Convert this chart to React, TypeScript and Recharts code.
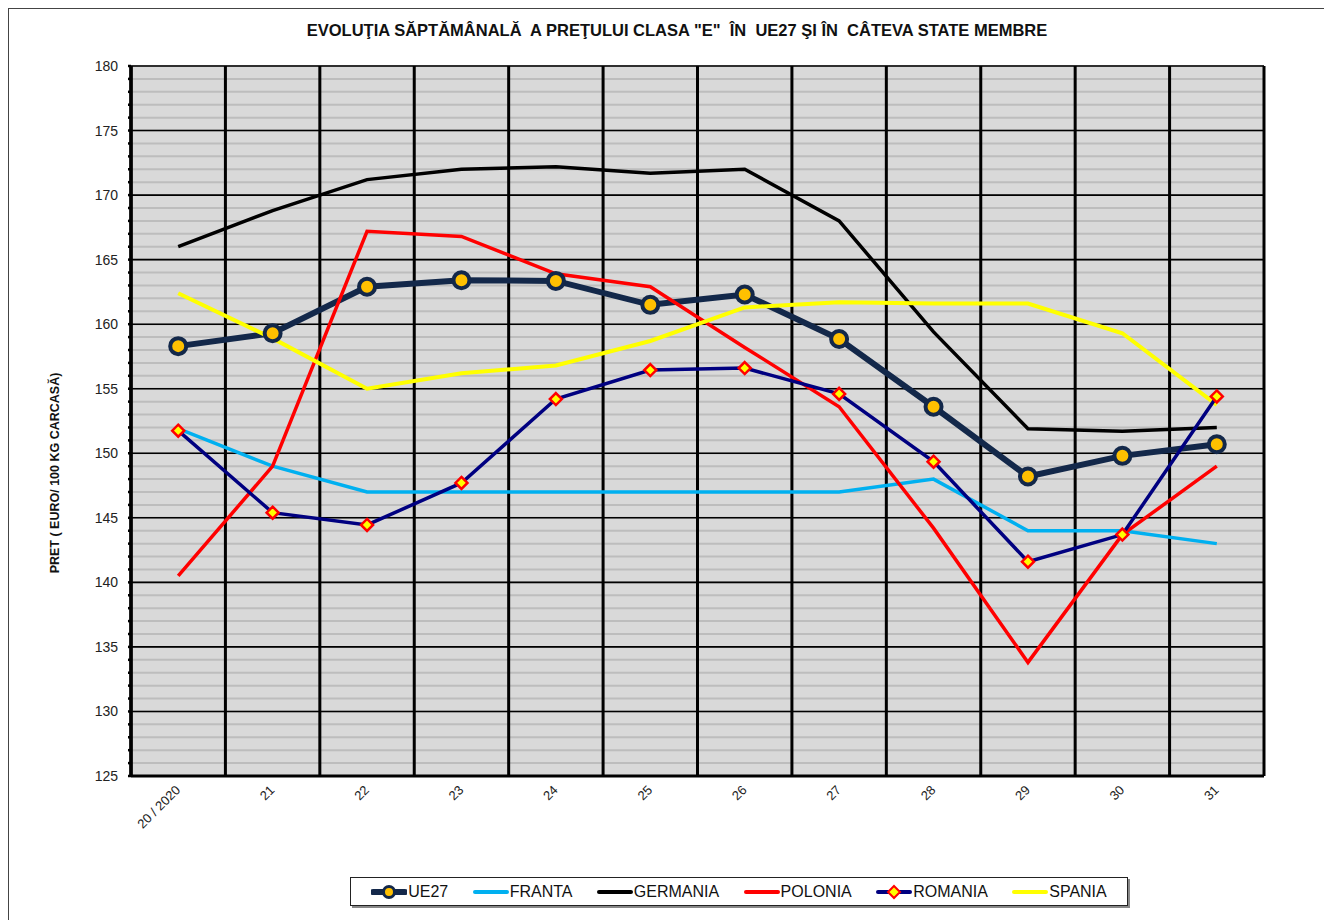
import React from "react"
import { LineChart, Line, XAxis, YAxis, CartesianGrid, ReferenceLine } from "recharts"

const weeks = ["20 / 2020", "21", "22", "23", "24", "25", "26", "27", "28", "29", "30", "31"]
const ue27 = [158.3, 159.3, 162.9, 163.4, 163.35, 161.5, 162.3, 158.85, 153.6, 148.2, 149.8, 150.7]
const franta = [151.9, 149.0, 147.0, 147.0, 147.0, 147.0, 147.0, 147.0, 148.0, 144.0, 144.0, 143.0]
const germania = [166.0, 168.8, 171.2, 172.0, 172.2, 171.7, 172.0, 168.0, 159.4, 151.9, 151.7, 152.0]
const polonia = [140.5, 149.0, 167.2, 166.8, 163.9, 162.9, 158.2, 153.6, 144.2, 133.8, 143.7, 149.0]
const romania = [151.75, 145.4, 144.45, 147.7, 154.2, 156.45, 156.6, 154.6, 149.35, 141.6, 143.7, 154.4]
const spania = [162.4, 158.9, 155.0, 156.2, 156.8, 158.7, 161.3, 161.7, 161.6, 161.6, 159.3, 153.75]

const minorTicks = Array.from({ length: 56 }, (_, i) => 125 + i)
const majorTicks = [125, 130, 135, 140, 145, 150, 155, 160, 165, 170, 175, 180]
const weekTicks = weeks.map((_, i) => i)
const boundTicks = Array.from({ length: 13 }, (_, i) => i - 0.5)

const data = weeks.map((w, i) => ({
  idx: i,
  week: w,
  UE27: ue27[i],
  FRANTA: franta[i],
  GERMANIA: germania[i],
  POLONIA: polonia[i],
  ROMANIA: romania[i],
  SPANIA: spania[i],
}))

const FONT = "Arial, 'Liberation Sans', sans-serif"
const NAVY = "#13284a"
const GOLD = "#ffc000"

const UeDot = (p: any) => (
  <circle key={`ue-${p.index}`} cx={p.cx} cy={p.cy} r={8} fill={GOLD} stroke={NAVY} strokeWidth={4} />
)

const RoDot = (p: any) => {
  const s = 6
  return (
    <path
      key={`ro-${p.index}`}
      d={`M${p.cx},${p.cy - s} L${p.cx + s},${p.cy} L${p.cx},${p.cy + s} L${p.cx - s},${p.cy} Z`}
      fill="#ffff00"
      stroke="#ff0000"
      strokeWidth={2.5}
    />
  )
}

const YTick = ({ x, y, payload }: any) => {
  if (payload.value % 5 !== 0) return null
  return (
    <text x={x} y={y} dy={5} textAnchor="end" fontSize={14} fontFamily={FONT} fill="#222">
      {payload.value}
    </text>
  )
}

const XTick = ({ x, y, payload }: any) => (
  <g transform={`translate(${x},${y})`}>
    <text textAnchor="end" transform="rotate(-45)" fontSize={13} fontFamily={FONT} fill="#222" dy={4}>
      {weeks[payload.value]}
    </text>
  </g>
)

const legendItems = [
  { name: "UE27", color: NAVY, width: 6, marker: "circle" },
  { name: "FRANTA", color: "#00b0f0", width: 4, marker: "" },
  { name: "GERMANIA", color: "#000000", width: 4, marker: "" },
  { name: "POLONIA", color: "#ff0000", width: 4, marker: "" },
  { name: "ROMANIA", color: "#000080", width: 4, marker: "diamond" },
  { name: "SPANIA", color: "#ffff00", width: 4, marker: "" },
]

export default function App() {
  return (
    <div
      style={{
        position: "relative",
        width: 1320,
        height: 920,
        border: "1px solid #444",
        background: "#fff",
        fontFamily: FONT,
      }}
    >
      <div
        style={{
          position: "absolute",
          top: 12,
          left: 0,
          width: 1336,
          textAlign: "center",
          fontWeight: "bold",
          fontSize: 16.5,
          color: "#111",
          whiteSpace: "pre",
        }}
      >
        {'EVOLUŢIA SĂPTĂMÂNALĂ  A PREŢULUI CLASA "E"  ÎN  UE27 ŞI ÎN  CÂTEVA STATE MEMBRE'}
      </div>
      <div
        style={{
          position: "absolute",
          left: 46,
          top: 464,
          transform: "translate(-50%, -50%) rotate(-90deg)",
          fontWeight: "bold",
          fontSize: 12.5,
          whiteSpace: "nowrap",
          color: "#111",
        }}
      >
        PRET ( EURO/ 100 KG CARCASĂ)
      </div>
      <div style={{ position: "absolute", left: 0, top: 0 }}>
        <LineChart width={1320} height={870} data={data} margin={{ top: 57, right: 65, left: 0, bottom: 63 }}>
          <CartesianGrid fill="#d9d9d9" stroke="#bdbdbd" strokeWidth={2} vertical={false} yAxisId="y" xAxisId="x" />
          {majorTicks.map((v) => (
            <ReferenceLine key={`maj-${v}`} xAxisId="x" yAxisId="y" y={v} stroke="#000" strokeWidth={1.6} />
          ))}
          <CartesianGrid stroke="#000" strokeWidth={3} horizontal={false} yAxisId="y" xAxisId="bounds" />
          <XAxis
            xAxisId="x"
            dataKey="idx"
            type="number"
            domain={[-0.5, 11.5]}
            ticks={weekTicks}
            allowDataOverflow
            interval={0}
            tickLine={false}
            axisLine={{ stroke: "#000", strokeWidth: 3 }}
            tick={<XTick />}
            tickMargin={6}
            height={40}
          />
          <XAxis
            xAxisId="bounds"
            dataKey="idx"
            type="number"
            domain={[-0.5, 11.5]}
            ticks={boundTicks}
            allowDataOverflow
            interval={0}
            height={0}
            hide
          />
          <YAxis
            yAxisId="y"
            type="number"
            domain={[125, 180]}
            ticks={minorTicks}
            interval={0}
            width={122}
            tickSize={3}
            tickMargin={10}
            tickLine={{ stroke: "#000", strokeWidth: 2.5 }}
            axisLine={{ stroke: "#000", strokeWidth: 3.5 }}
            tick={<YTick />}
          />
          <Line
            xAxisId="x"
            yAxisId="y"
            dataKey="UE27"
            stroke={NAVY}
            strokeWidth={6}
            dot={UeDot}
            activeDot={false}
            isAnimationActive={false}
          />
          <Line xAxisId="x" yAxisId="y" dataKey="FRANTA" stroke="#00b0f0" strokeWidth={3.5} dot={false} activeDot={false} isAnimationActive={false} />
          <Line xAxisId="x" yAxisId="y" dataKey="GERMANIA" stroke="#000" strokeWidth={3.5} dot={false} activeDot={false} isAnimationActive={false} />
          <Line xAxisId="x" yAxisId="y" dataKey="POLONIA" stroke="#ff0000" strokeWidth={3.5} dot={false} activeDot={false} isAnimationActive={false} />
          <Line xAxisId="x" yAxisId="y" dataKey="SPANIA" stroke="#ffff00" strokeWidth={4} dot={false} activeDot={false} isAnimationActive={false} />
          <Line
            xAxisId="x"
            yAxisId="y"
            dataKey="ROMANIA"
            stroke="#000080"
            strokeWidth={3.5}
            dot={RoDot}
            activeDot={false}
            isAnimationActive={false}
          />
        </LineChart>
      </div>
      <div
        style={{
          position: "absolute",
          left: 341,
          top: 868,
          width: 778,
          height: 29,
          border: "1px solid #222",
          boxShadow: "2px 2px 0 #888",
          background: "#fff",
          display: "flex",
          alignItems: "center",
          justifyContent: "space-around",
          padding: "0 8px",
          boxSizing: "border-box",
          fontSize: 16,
          color: "#111",
        }}
      >
        {legendItems.map((it) => (
          <div key={it.name} style={{ display: "flex", alignItems: "center" }}>
            <svg width={36} height={16} style={{ marginRight: 1 }}>
              <line x1={2} y1={8} x2={34} y2={8} stroke={it.color} strokeWidth={it.width} strokeLinecap="round" />
              {it.marker === "circle" && <circle cx={18} cy={8} r={5.5} fill={GOLD} stroke={NAVY} strokeWidth={3} />}
              {it.marker === "diamond" && (
                <path d="M18,2 L24,8 L18,14 L12,8 Z" fill="#ffff00" stroke="#ff0000" strokeWidth={2} />
              )}
            </svg>
            <span>{it.name}</span>
          </div>
        ))}
      </div>
    </div>
  )
}
